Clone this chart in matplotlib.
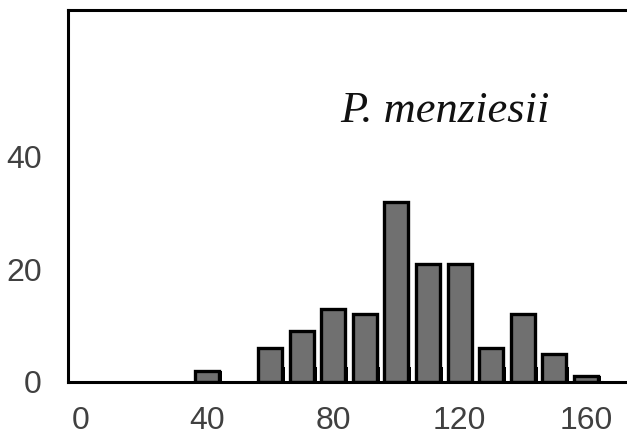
import numpy as np
import matplotlib
matplotlib.use("Agg")
import matplotlib.pyplot as plt

# class midpoints and counts
classes = [40, 60, 70, 80, 90, 100, 110, 120, 130, 140, 150, 160]
counts = [2, 6, 9, 13, 12, 32, 21, 21, 6, 12, 5, 1]
xticks = [0, 40, 80, 120, 160]
yticks = [0, 20, 40]
species = "P. menziesii"

fig = plt.figure(figsize=(6.27, 4.36), dpi=100)
ax = fig.add_axes([0.1085, 0.1239, 0.8915, 0.853])

x = np.array(classes, dtype=float)
h = np.array(counts, dtype=float)

# little drop shadow at the foot of each bar
ax.bar(x + 0.9, np.minimum(h, 2.7), width=7.6, color="black", zorder=1)
ax.bar(x, h, width=7.6, color="#707070", edgecolor="black", linewidth=2.4, zorder=2)

ax.set_xlim(-4, 173)
ax.set_ylim(0, 66)
ax.set_xticks(xticks)
ax.set_yticks(yticks)
ax.tick_params(length=0, labelsize=23, labelcolor="#404040")
ax.tick_params(axis="x", pad=17)
ax.tick_params(axis="y", pad=19)
for lab in ax.get_xticklabels() + ax.get_yticklabels():
    lab.set_fontfamily("Liberation Sans")

for side in ["left", "bottom", "top"]:
    ax.spines[side].set_linewidth(2.2)
ax.spines["right"].set_visible(False)

ax.text(0.674, 0.699, species, transform=ax.transAxes, ha="center", va="baseline",
        fontsize=32, fontstyle="italic", family="Liberation Serif", color="#111111")

fig.savefig("out.png", dpi=100)
